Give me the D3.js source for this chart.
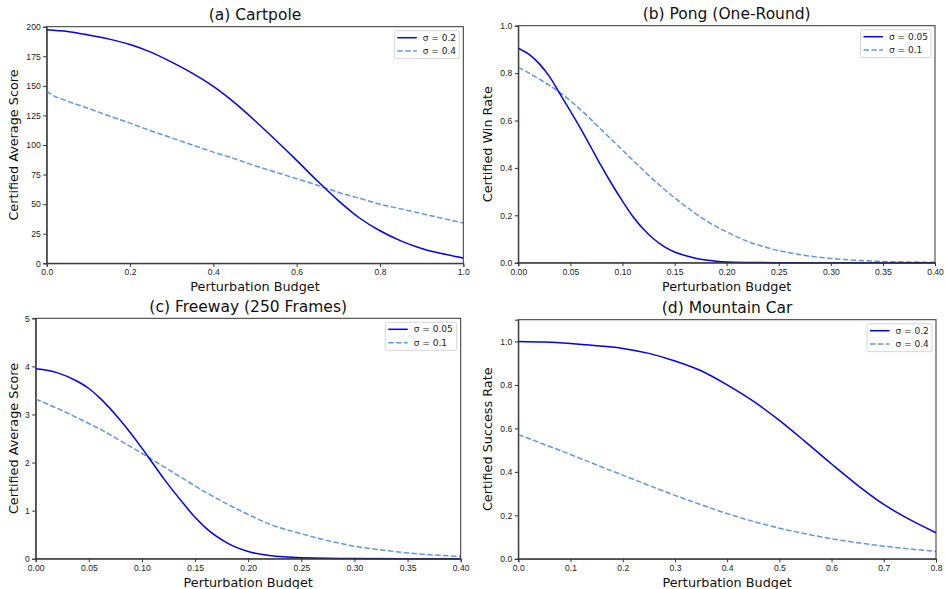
<!DOCTYPE html>
<html>
<head>
<meta charset="utf-8">
<script src="https://cdn.jsdelivr.net/npm/d3@7"></script>
<style>
  body { margin: 0; background: #fff; }
  svg { font-family: "DejaVu Sans", sans-serif; display: block; }
  .tick text { fill: #222; font-size: 8.6px; }
  .tick line, .domain { stroke: #333; }
</style>
</head>
<body>
<svg width="945" height="589"></svg>
<script>
// (a) Cartpole
const cartSolidX = [0, 0.05, 0.1, 0.15, 0.2, 0.25, 0.3, 0.35, 0.4, 0.45, 0.5, 0.55, 0.6, 0.65, 0.7, 0.75, 0.8, 0.85, 0.9, 0.95, 1.0];
const cartSolid  = [197.5, 196, 193, 189.5, 185, 178.5, 170, 160.5, 149.5, 136, 120.5, 104, 87, 69.5, 53, 38.5, 27.5, 19, 12.5, 8, 4.5];
const cartDashX  = [0, 0.01, 0.05, 0.1, 0.15, 0.2, 0.25, 0.3, 0.35, 0.4, 0.45, 0.5, 0.55, 0.6, 0.65, 0.7, 0.75, 0.8, 0.85, 0.9, 0.95, 1.0];
const cartDash   = [145.5, 143, 137, 131, 124.5, 118.5, 112, 106, 100, 94, 88.5, 82.5, 77, 71.5, 66, 60, 55, 50, 46, 42, 38, 34];

// (b) Pong (One-Round)
const pongSolidX = [0, 0.01, 0.02, 0.03, 0.04, 0.05, 0.06, 0.07, 0.08, 0.09, 0.10, 0.11, 0.12, 0.13, 0.14, 0.15, 0.16, 0.17, 0.18, 0.19, 0.20, 0.22, 0.25, 0.30, 0.40];
const pongSolid  = [0.905, 0.88, 0.84, 0.785, 0.712, 0.64, 0.565, 0.485, 0.405, 0.33, 0.26, 0.195, 0.142, 0.1, 0.068, 0.045, 0.03, 0.019, 0.011, 0.006, 0.003, 0.001, 0, 0, 0];
const pongDashX  = [0, 0.02, 0.04, 0.06, 0.08, 0.10, 0.12, 0.14, 0.16, 0.18, 0.20, 0.22, 0.24, 0.26, 0.28, 0.30, 0.33, 0.36, 0.40];
const pongDash   = [0.825, 0.775, 0.718, 0.645, 0.56, 0.475, 0.39, 0.31, 0.24, 0.178, 0.13, 0.09, 0.062, 0.042, 0.028, 0.018, 0.009, 0.004, 0.002];

// (c) Freeway (250 Frames)
const freeSolidX = [0, 0.02, 0.04, 0.05, 0.06, 0.08, 0.10, 0.11, 0.12, 0.14, 0.15, 0.16, 0.18, 0.20, 0.22, 0.25, 0.30, 0.40];
const freeSolid  = [3.95, 3.87, 3.68, 3.54, 3.35, 2.87, 2.3, 1.99, 1.68, 1.12, 0.86, 0.64, 0.33, 0.15, 0.065, 0.02, 0.003, 0];
const freeDashX  = [0, 0.02, 0.04, 0.06, 0.08, 0.10, 0.12, 0.14, 0.16, 0.18, 0.20, 0.22, 0.25, 0.28, 0.30, 0.33, 0.35, 0.38, 0.40];
const freeDash   = [3.32, 3.13, 2.92, 2.70, 2.45, 2.19, 1.92, 1.65, 1.38, 1.14, 0.92, 0.72, 0.52, 0.35, 0.26, 0.17, 0.12, 0.07, 0.05];

// (d) Mountain Car
const mountX      = [0, 0.05, 0.1, 0.15, 0.2, 0.25, 0.3, 0.35, 0.4, 0.45, 0.5, 0.55, 0.6, 0.65, 0.7, 0.75, 0.8];
const mountSolid  = [1.0, 0.997, 0.99, 0.98, 0.968, 0.945, 0.91, 0.865, 0.80, 0.725, 0.637, 0.538, 0.436, 0.338, 0.25, 0.18, 0.12];
const mountDash   = [0.572, 0.526, 0.48, 0.432, 0.385, 0.338, 0.292, 0.249, 0.208, 0.172, 0.141, 0.115, 0.092, 0.074, 0.058, 0.045, 0.034];

// ticks
const xTicksA = [0, 0.2, 0.4, 0.6, 0.8, 1.0];
const xTicksB = [0, 0.05, 0.1, 0.15, 0.2, 0.25, 0.3, 0.35, 0.4];
const xTicksD = [0, 0.1, 0.2, 0.3, 0.4, 0.5, 0.6, 0.7, 0.8];
const yTicksA = [0, 25, 50, 75, 100, 125, 150, 175, 200];
const yTicksRate = [0, 0.2, 0.4, 0.6, 0.8, 1.0];
const yTicksC = [0, 1, 2, 3, 4, 5];

const solidColor = "#0000ff";
const dashColor = "#6495ed";

const panels = [
  { title: "(a) Cartpole", ylabel: "Certified Average Score",
    box: {l: 46.7, r: 463.3, t: 26.7, b: 263.3}, xdom: [0, 1], ydom: [0, 200],
    xt: xTicksA, xf: ".1f", yt: yTicksA, yf: "d", yOff: 29,
    s1: {x: cartSolidX, y: cartSolid, name: "σ = 0.2"},
    s2: {x: cartDashX, y: cartDash, name: "σ = 0.4"}, legW: 65 },
  { title: "(b) Pong (One-Round)", ylabel: "Certified Win Rate",
    box: {l: 518.3, r: 935, t: 25.7, b: 262.7}, xdom: [0, 0.4], ydom: [0, 1],
    xt: xTicksB, xf: ".2f", yt: yTicksRate, yf: ".1f", yOff: 26,
    s1: {x: pongSolidX, y: pongSolid, name: "σ = 0.05"},
    s2: {x: pongDashX, y: pongDash, name: "σ = 0.1"}, legW: 70.5 },
  { title: "(c) Freeway (250 Frames)", ylabel: "Certified Average Score",
    box: {l: 35.7, r: 460.7, t: 318.3, b: 558.7}, xdom: [0, 0.4], ydom: [0, 5],
    xt: xTicksB, xf: ".2f", yt: yTicksC, yf: "d", yOff: 18,
    s1: {x: freeSolidX, y: freeSolid, name: "σ = 0.05"},
    s2: {x: freeDashX, y: freeDash, name: "σ = 0.1"}, legW: 71.5 },
  { title: "(d) Mountain Car", ylabel: "Certified Success Rate",
    box: {l: 518.3, r: 936, t: 319.7, b: 558.8}, xdom: [0, 0.8], ydom: [0, 1.1],
    xt: xTicksD, xf: ".1f", yt: yTicksRate, yf: ".1f", yOff: 26,
    s1: {x: mountX, y: mountSolid, name: "σ = 0.2"},
    s2: {x: mountX, y: mountDash, name: "σ = 0.4"}, legW: 65 }
];

const svg = d3.select("svg");

panels.forEach((p) => {
  const b = p.box;
  const x = d3.scaleLinear().domain(p.xdom).range([b.l, b.r]);
  const y = d3.scaleLinear().domain(p.ydom).range([b.b, b.t]);
  const g = svg.append("g");

  // x axis
  g.append("g")
    .attr("transform", "translate(0," + b.b + ")")
    .call(d3.axisBottom(x).tickValues(p.xt).tickFormat(d3.format(p.xf)).tickSizeOuter(0).tickSize(3.5).tickPadding(2.5));
  // y axis
  g.append("g")
    .attr("transform", "translate(" + b.l + ",0)")
    .call(d3.axisLeft(y).tickValues(p.yt).tickFormat(d3.format(p.yf)).tickSizeOuter(0).tickSize(3.5).tickPadding(2.5));

  g.selectAll(".tick text").attr("font-family", null).attr("font-size", null);

  const line = d3.line().curve(d3.curveMonotoneX);
  const pts = (s) => s.x.map((v, i) => [x(v), y(s.y[i])]);

  g.append("path").attr("d", line(pts(p.s2)))
    .attr("fill", "none").attr("stroke", dashColor).attr("stroke-width", 1.5)
    .attr("stroke-dasharray", "5.5,2.4");
  g.append("path").attr("d", line(pts(p.s1)))
    .attr("fill", "none").attr("stroke", solidColor).attr("stroke-width", 1.5);

  // frame (top and right spines)
  g.append("rect")
    .attr("x", b.l).attr("y", b.t).attr("width", b.r - b.l).attr("height", b.b - b.t)
    .attr("fill", "none").attr("stroke", "#333").attr("stroke-width", 1);

  // title
  g.append("text")
    .attr("x", (b.l + b.r) / 2).attr("y", b.t - 6.5)
    .attr("text-anchor", "middle").attr("font-size", "15.5px").attr("fill", "#111")
    .text(p.title);

  // axis labels
  g.append("text")
    .attr("x", (b.l + b.r) / 2).attr("y", b.b + 28)
    .attr("text-anchor", "middle").attr("font-size", "12.8px").attr("fill", "#111")
    .text("Perturbation Budget");
  g.append("text")
    .attr("transform", "translate(" + (b.l - p.yOff) + "," + ((b.t + b.b) / 2) + ") rotate(-90)")
    .attr("text-anchor", "middle").attr("font-size", "12.8px").attr("fill", "#111")
    .text(p.ylabel);

  // legend
  const lw = p.legW, lx = b.r - 4 - lw, ly = b.t + 4;
  const leg = g.append("g").attr("transform", "translate(" + lx + "," + ly + ")");
  leg.append("rect").attr("width", lw).attr("height", 28).attr("rx", 2)
    .attr("fill", "#fff").attr("stroke", "#d6d6d6").attr("stroke-width", 1);
  [[p.s1, solidColor, null], [p.s2, dashColor, "5.5,2.4"]].forEach((item, i) => {
    const yy = 7 + i * 13.4;
    leg.append("line").attr("x1", 3).attr("x2", 22.5).attr("y1", yy).attr("y2", yy)
      .attr("stroke", item[1]).attr("stroke-width", 1.5)
      .attr("stroke-dasharray", item[2]);
    leg.append("text").attr("x", 28.5).attr("y", yy + 3.2)
      .attr("font-size", "9px").attr("fill", "#222")
      .text(item[0].name);
  });
});
</script>
</body>
</html>
